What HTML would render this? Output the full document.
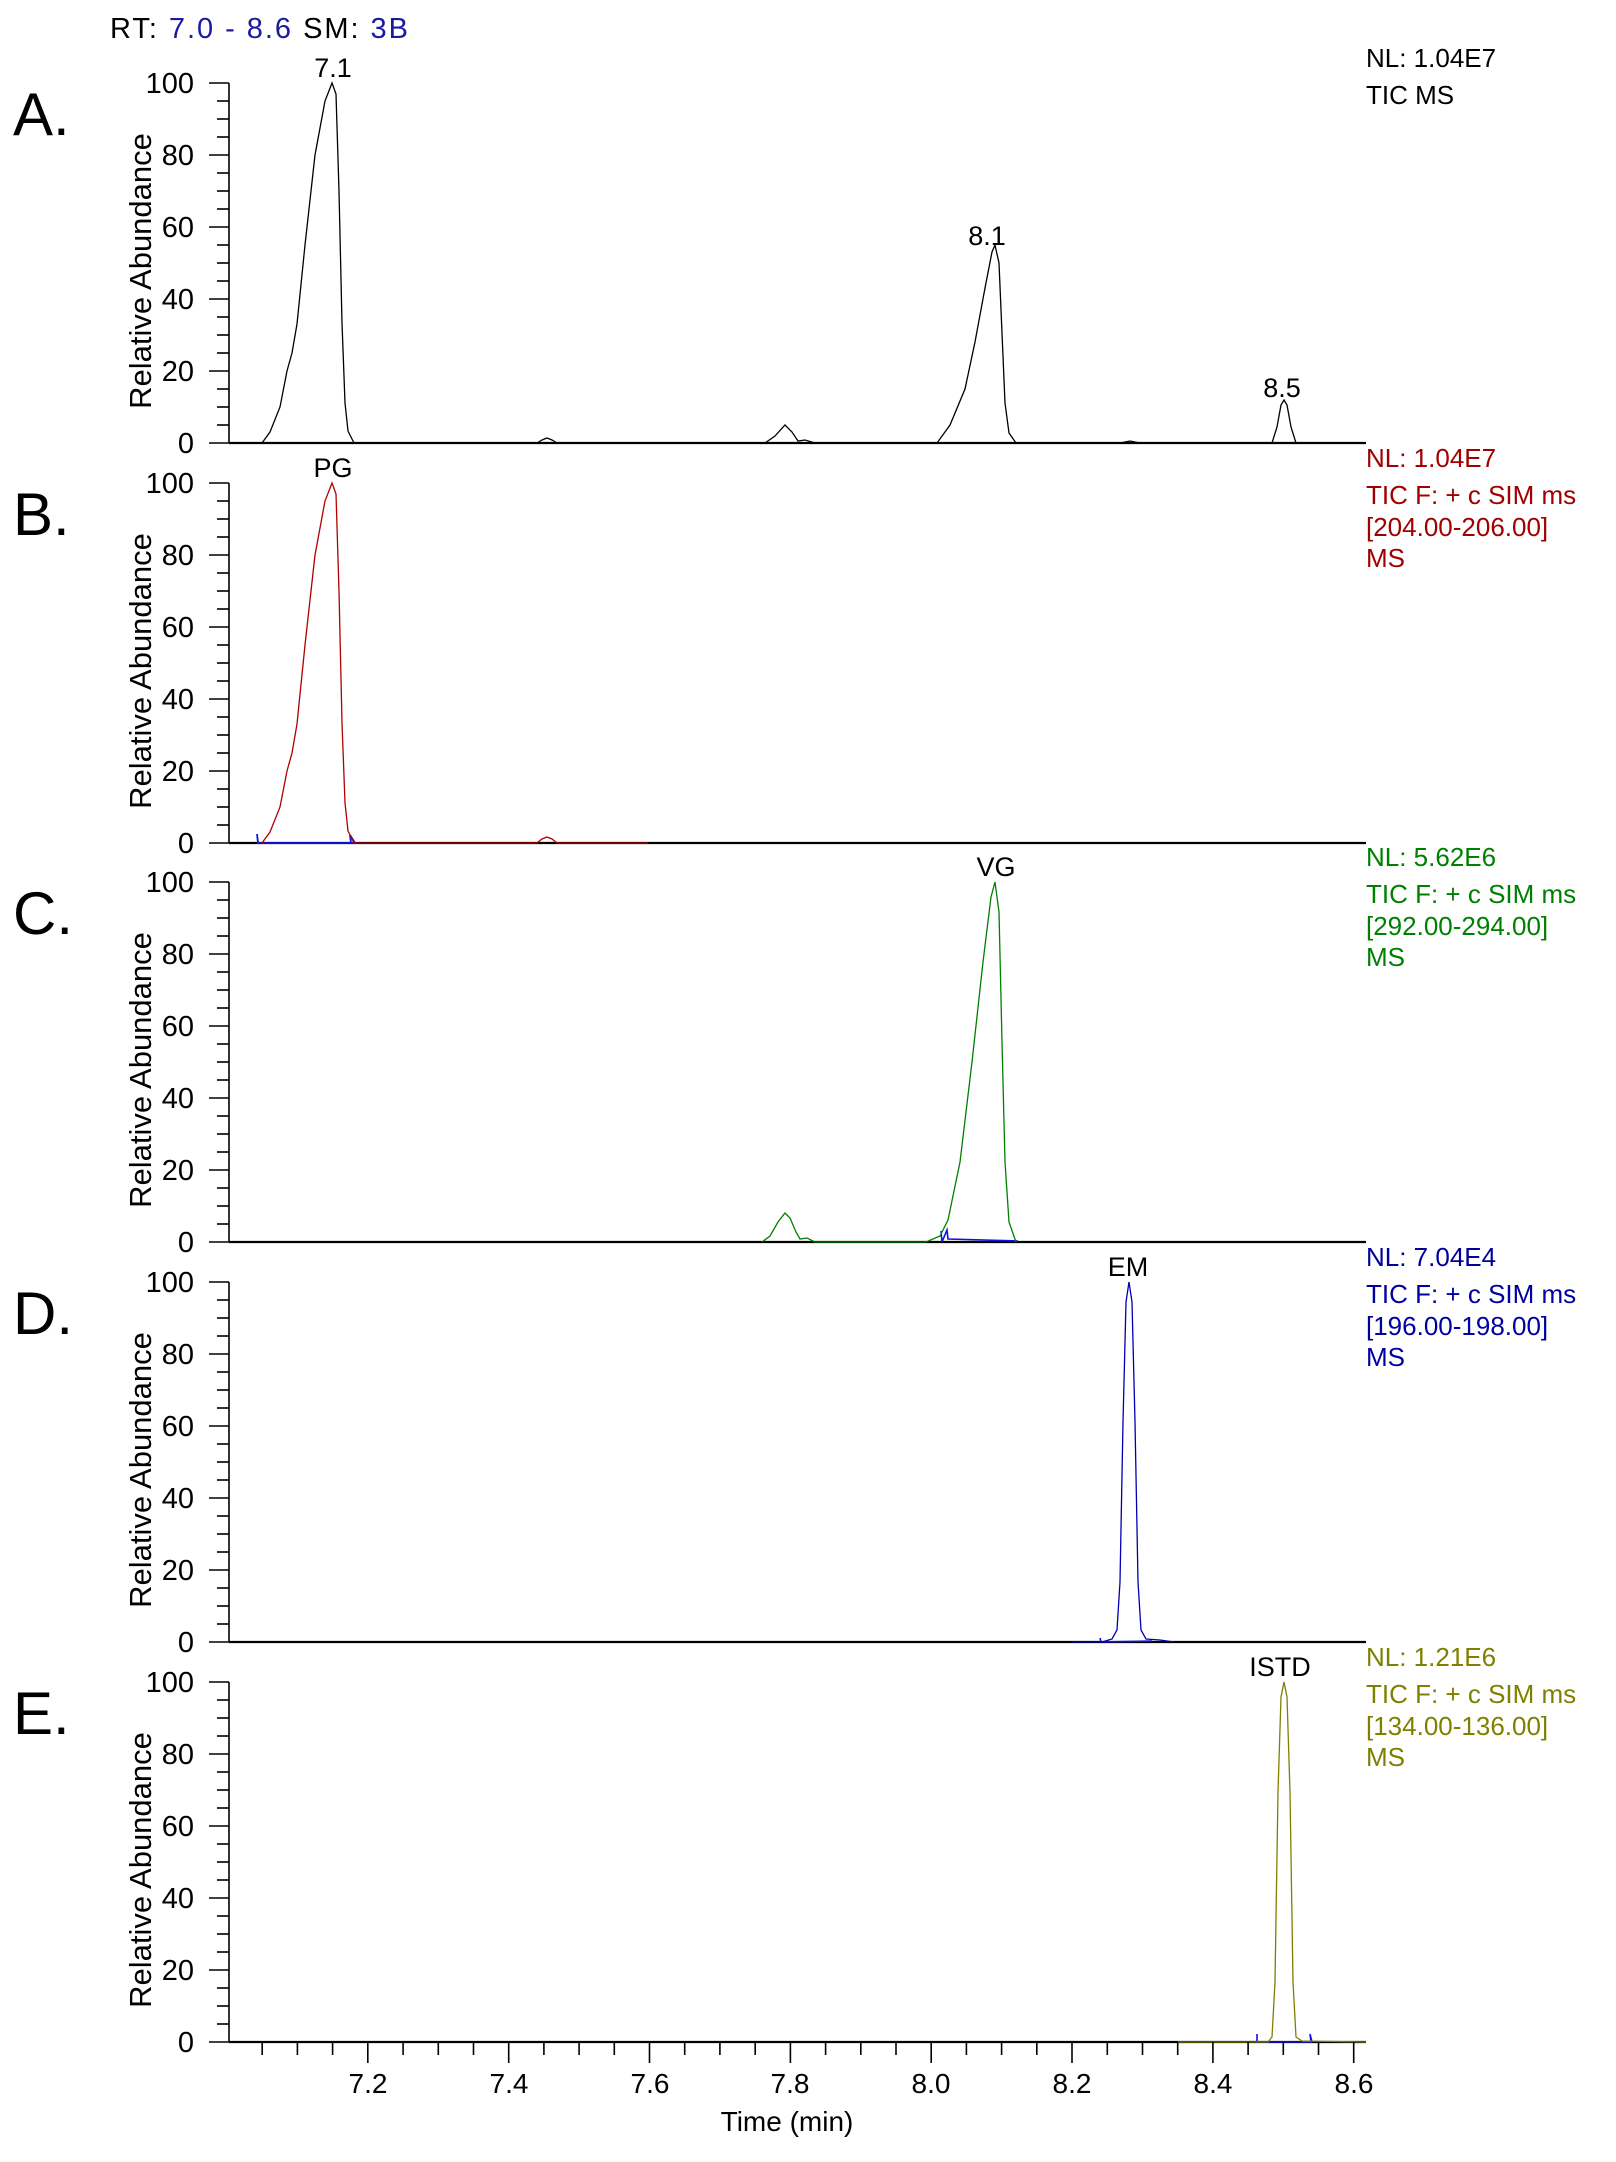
<!DOCTYPE html>
<html><head><meta charset="utf-8"><style>
html,body{margin:0;padding:0;background:#fff;}
svg{display:block;font-family:"Liberation Sans",Arial,sans-serif;}
</style></head><body>
<svg width="1616" height="2162" viewBox="0 0 1616 2162" xmlns="http://www.w3.org/2000/svg" xml:space="preserve">
<defs>
<g id="yax" stroke="#000" stroke-width="1.6">
<line x1="229" y1="0" x2="229" y2="-360"/>
<line x1="209" y1="0" x2="229" y2="0"/><line x1="217" y1="-18" x2="229" y2="-18"/>
<line x1="217" y1="-36" x2="229" y2="-36"/><line x1="217" y1="-54" x2="229" y2="-54"/>
<line x1="209" y1="-72" x2="229" y2="-72"/><line x1="217" y1="-90" x2="229" y2="-90"/>
<line x1="217" y1="-108" x2="229" y2="-108"/><line x1="217" y1="-126" x2="229" y2="-126"/>
<line x1="209" y1="-144" x2="229" y2="-144"/><line x1="217" y1="-162" x2="229" y2="-162"/>
<line x1="217" y1="-180" x2="229" y2="-180"/><line x1="217" y1="-198" x2="229" y2="-198"/>
<line x1="209" y1="-216" x2="229" y2="-216"/><line x1="217" y1="-234" x2="229" y2="-234"/>
<line x1="217" y1="-252" x2="229" y2="-252"/><line x1="217" y1="-270" x2="229" y2="-270"/>
<line x1="209" y1="-288" x2="229" y2="-288"/><line x1="217" y1="-306" x2="229" y2="-306"/>
<line x1="217" y1="-324" x2="229" y2="-324"/><line x1="217" y1="-342" x2="229" y2="-342"/>
<line x1="209" y1="-360" x2="229" y2="-360"/>
<line x1="229" y1="0" x2="1366" y2="0" stroke-width="2.2"/>
</g>
<g id="ylab" font-size="29" text-anchor="end" fill="#000">
<text x="194" y="10">0</text><text x="194" y="-62">20</text><text x="194" y="-134">40</text>
<text x="194" y="-206">60</text><text x="194" y="-278">80</text><text x="194" y="-350">100</text>
<text transform="translate(151,-172) rotate(-90)" text-anchor="middle" font-size="31">Relative Abundance</text>
</g>
</defs>

<text x="110" y="38" font-size="29" fill="#000" textLength="298" lengthAdjust="spacing">RT: <tspan fill="#1a1aa0">7.0 - 8.6</tspan>  SM: <tspan fill="#1a1aa0">3B</tspan></text>

<!-- Panel A -->
<g transform="translate(0,443)">
<use href="#yax"/><use href="#ylab"/>
<g fill="none" stroke="#000" stroke-width="1.3">
<polyline points="229,0 262,0 270,-11 280,-36 287,-72 292,-90 297,-119 305,-198 315,-288 325,-342 332,-360 336,-349 339,-252 342,-120 345,-40 348,-12 354,0 537,0 542,-3 547,-5 552,-3 557,0 765,0 775,-7 785,-18 792,-11 798,-2 805,-3 815,0 937,0 950,-18 965,-54 975,-101 985,-155 992,-191 995,-198 999,-180 1002,-110 1005,-40 1009,-10 1016,0 1120,0 1130,-2 1140,0 1272,0 1277,-16 1281,-38 1284,-43 1287,-38 1291,-16 1296,0 1366,0"/>
</g>
<text x="333" y="-366" font-size="27" text-anchor="middle">7.1</text>
<text x="987" y="-198" font-size="27" text-anchor="middle">8.1</text>
<text x="1282" y="-46" font-size="27" text-anchor="middle">8.5</text>
<text x="13" y="-308" font-size="60">A.</text>
<g font-size="26" fill="#000"><text x="1366" y="-376">NL: 1.04E7</text><text x="1366" y="-339">TIC  MS</text></g>
</g>

<!-- Panel B -->
<g transform="translate(0,843)">
<use href="#yax"/><use href="#ylab"/>
<polyline fill="none" stroke="#1010e0" stroke-width="1.8" points="257,-9 258,0 355,0 350,-8 351,0"/>
<polyline fill="none" stroke="#b00000" stroke-width="1.3" points="262,0 270,-11 280,-36 287,-72 292,-90 297,-119 305,-198 315,-288 325,-342 332,-360 336,-349 339,-252 342,-120 345,-40 348,-12 354,0 537,0 542,-4 547,-6 552,-4 557,0 648,0"/>
<text x="333" y="-366" font-size="27" text-anchor="middle">PG</text>
<text x="13" y="-308" font-size="60">B.</text>
<g font-size="26" fill="#a00000"><text x="1366" y="-376">NL: 1.04E7</text><text x="1366" y="-339">TIC F: + c SIM ms</text><text x="1366" y="-307">[204.00-206.00]</text><text x="1366" y="-276">MS</text></g>
</g>

<!-- Panel C -->
<g transform="translate(0,1242)">
<use href="#yax"/><use href="#ylab"/>
<polyline fill="none" stroke="#1010e0" stroke-width="1.6" points="941,-11 942,0 947,-12 948,-3 1018,-1"/>
<polyline fill="none" stroke="#008000" stroke-width="1.3" points="762,0 770,-6 778,-20 785,-29 790,-24 796,-10 800,-3 807,-4 815,0 926,0 940,-6 948,-22 960,-80 972,-180 983,-280 991,-345 995,-360 999,-330 1002,-200 1005,-80 1009,-20 1016,0"/>
<text x="996" y="-366" font-size="27" text-anchor="middle">VG</text>
<text x="13" y="-308" font-size="60">C.</text>
<g font-size="26" fill="#008000"><text x="1366" y="-376">NL: 5.62E6</text><text x="1366" y="-339">TIC F: + c SIM ms</text><text x="1366" y="-307">[292.00-294.00]</text><text x="1366" y="-276">MS</text></g>
</g>

<!-- Panel D -->
<g transform="translate(0,1642)">
<use href="#yax"/><use href="#ylab"/>
<polyline fill="none" stroke="#1010e0" stroke-width="1.6" points="1100,-4 1101,0 1152,-1"/>
<polyline fill="none" stroke="#0000b0" stroke-width="1.3" points="1072,0 1102,0 1112,-3 1117,-12 1120,-60 1123,-220 1126,-340 1129,-360 1132,-340 1135,-220 1138,-60 1141,-12 1146,-3 1160,-2 1174,0"/>
<text x="1128" y="-366" font-size="27" text-anchor="middle">EM</text>
<text x="13" y="-308" font-size="60">D.</text>
<g font-size="26" fill="#0000a0"><text x="1366" y="-376">NL: 7.04E4</text><text x="1366" y="-339">TIC F: + c SIM ms</text><text x="1366" y="-307">[196.00-198.00]</text><text x="1366" y="-276">MS</text></g>
</g>

<!-- Panel E -->
<g transform="translate(0,2042)">
<use href="#yax"/><use href="#ylab"/>
<polyline fill="none" stroke="#1010e0" stroke-width="1.6" points="1257,-8 1257,0 1263,0 1311,0 1310,-8 1312,0"/>
<polyline fill="none" stroke="#808000" stroke-width="1.3" points="1178,0 1268,0 1272,-5 1275,-60 1278,-250 1281,-345 1284,-360 1287,-345 1290,-250 1293,-60 1296,-5 1302,-1 1366,0"/>
<text x="1280" y="-366" font-size="27" text-anchor="middle">ISTD</text>
<text x="13" y="-308" font-size="60">E.</text>
<g font-size="26" fill="#808000"><text x="1366" y="-376">NL: 1.21E6</text><text x="1366" y="-339">TIC F: + c SIM ms</text><text x="1366" y="-307">[134.00-136.00]</text><text x="1366" y="-276">MS</text></g>
<g stroke="#000" stroke-width="1.6">
<line x1="262.2" y1="0" x2="262.2" y2="13"/><line x1="297.4" y1="0" x2="297.4" y2="13"/><line x1="332.6" y1="0" x2="332.6" y2="13"/>
<line x1="367.8" y1="0" x2="367.8" y2="21"/><line x1="403.1" y1="0" x2="403.1" y2="13"/><line x1="438.3" y1="0" x2="438.3" y2="13"/><line x1="473.5" y1="0" x2="473.5" y2="13"/>
<line x1="508.7" y1="0" x2="508.7" y2="21"/><line x1="543.9" y1="0" x2="543.9" y2="13"/><line x1="579.1" y1="0" x2="579.1" y2="13"/><line x1="614.3" y1="0" x2="614.3" y2="13"/>
<line x1="649.5" y1="0" x2="649.5" y2="21"/><line x1="684.7" y1="0" x2="684.7" y2="13"/><line x1="719.9" y1="0" x2="719.9" y2="13"/><line x1="755.2" y1="0" x2="755.2" y2="13"/>
<line x1="790.4" y1="0" x2="790.4" y2="21"/><line x1="825.6" y1="0" x2="825.6" y2="13"/><line x1="860.8" y1="0" x2="860.8" y2="13"/><line x1="896" y1="0" x2="896" y2="13"/>
<line x1="931.2" y1="0" x2="931.2" y2="21"/><line x1="966.4" y1="0" x2="966.4" y2="13"/><line x1="1001.6" y1="0" x2="1001.6" y2="13"/><line x1="1036.8" y1="0" x2="1036.8" y2="13"/>
<line x1="1072" y1="0" x2="1072" y2="21"/><line x1="1107.3" y1="0" x2="1107.3" y2="13"/><line x1="1142.5" y1="0" x2="1142.5" y2="13"/><line x1="1177.7" y1="0" x2="1177.7" y2="13"/>
<line x1="1212.9" y1="0" x2="1212.9" y2="21"/><line x1="1248.1" y1="0" x2="1248.1" y2="13"/><line x1="1283.3" y1="0" x2="1283.3" y2="13"/><line x1="1318.5" y1="0" x2="1318.5" y2="13"/>
<line x1="1353.7" y1="0" x2="1353.7" y2="21"/>
</g>
<g font-size="28" text-anchor="middle" fill="#000">
<text x="368" y="51">7.2</text><text x="509" y="51">7.4</text><text x="650" y="51">7.6</text><text x="790" y="51">7.8</text>
<text x="931" y="51">8.0</text><text x="1072" y="51">8.2</text><text x="1213" y="51">8.4</text><text x="1354" y="51">8.6</text>
<text x="787" y="89">Time (min)</text>
</g>
</g>
</svg>
</body></html>
